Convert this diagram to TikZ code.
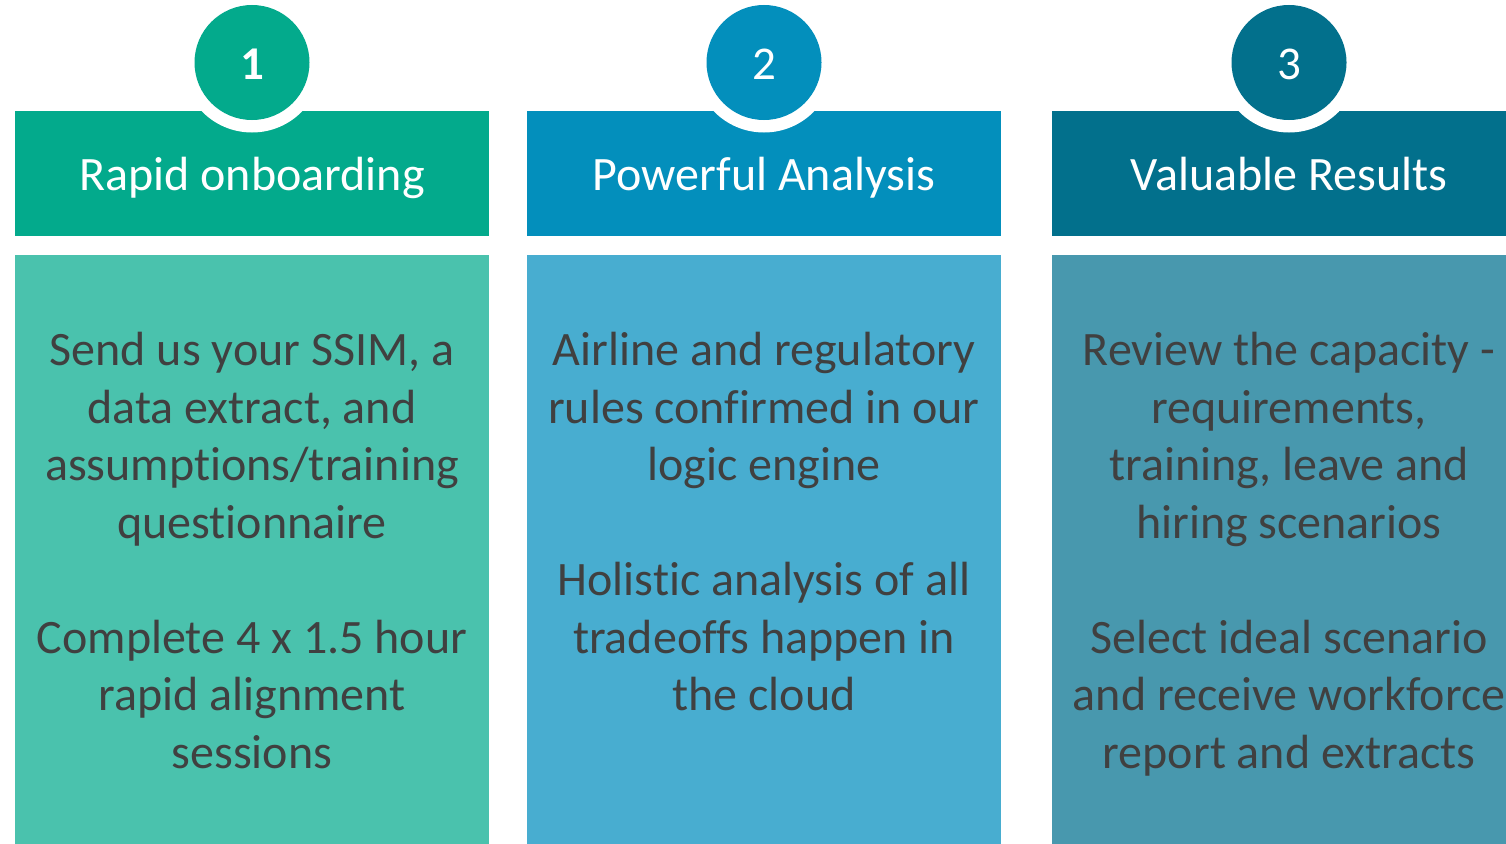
\documentclass[tikz,border=0pt]{standalone}
\usepackage{fontspec}
\setmainfont[Ligatures=NoCommon]{Carlito}
\definecolor{hA}{HTML}{03AA8C}
\definecolor{bA}{HTML}{4AC2AD}
\definecolor{hB}{HTML}{038FBC}
\definecolor{bB}{HTML}{48ADD0}
\definecolor{hC}{HTML}{02708C}
\definecolor{bC}{HTML}{4898AE}
\definecolor{txt}{HTML}{404040}
\tikzset{
  numtxt/.style={anchor=base, inner sep=0pt, text=white, font=\fontsize{47}{57.5}\selectfont},
  headtxt/.style={anchor=base, inner sep=0pt, text=white, font=\fontsize{48}{57.5}\selectfont},
  bodytxt/.style={anchor=base, inner sep=0pt, text=txt, font=\fontsize{48}{57.5}\selectfont},
}
\newcommand{\tb}[1]{\begin{tabular}[t]{@{}c@{}}#1\end{tabular}}
\begin{document}
\begin{tikzpicture}[x=1pt,y=-1pt]
\useasboundingbox (0,0) rectangle (1506,843);
\clip (0,0) rectangle (1506,843);
% column 1
\fill[hA] (15,111) rectangle (489,236);
\fill[bA] (15,255) rectangle (489,850);
\fill[white] (252,62.5) circle (70);
\fill[hA] (252,62.5) circle (57.5);
\node[numtxt] (n1) at (252,79) {\bfseries 1};
\node[headtxt] (t1) at (252,190) {Rapid onboarding};
\node[bodytxt] (b1) at (252,365.7) {\tb{Send us your SSIM, a\\ data extract, and\\ assumptions/training\\ questionnaire\\ \\ Complete 4 x 1.5 hour\\ rapid alignment\\ sessions}};
% column 2
\fill[hB] (527,111) rectangle (1001,236);
\fill[bB] (527,255) rectangle (1001,850);
\fill[white] (764,62.5) circle (70);
\fill[hB] (764,62.5) circle (57.5);
\node[numtxt] (n2) at (764,79) {2};
\node[headtxt] (t2) at (764,190) {Powerful Analysis};
\node[bodytxt] (b2) at (764,365.7) {\tb{Airline and regulatory\\ rules confirmed in our\\ logic engine\\ \\ Holistic analysis of all\\ tradeoffs happen in\\ the cloud}};
% column 3
\fill[hC] (1052,111) rectangle (1526,236);
\fill[bC] (1052,255) rectangle (1526,850);
\fill[white] (1289,62.5) circle (70);
\fill[hC] (1289,62.5) circle (57.5);
\node[numtxt] (n3) at (1289,79) {3};
\node[headtxt] (t3) at (1289,190) {Valuable Results};
\node[bodytxt] (b3) at (1289,365.7) {\tb{Review the capacity -\\ requirements,\\ training, leave and\\ hiring scenarios\\ \\ Select ideal scenario\\ and receive workforce\\ report and extracts}};
\end{tikzpicture}
\end{document}
